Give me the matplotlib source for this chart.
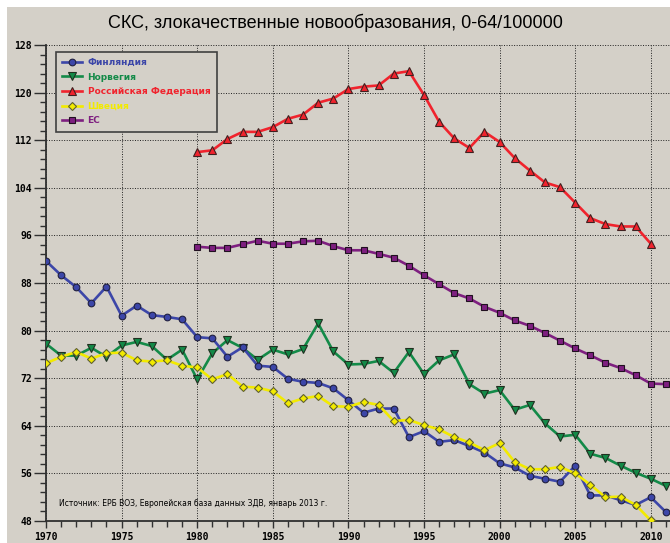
import numpy as np
import matplotlib
matplotlib.use('Agg')
import matplotlib.pyplot as plt
from matplotlib.ticker import MultipleLocator

# data
years_all = np.arange(1970, 2012)
years_swe = np.arange(1970, 2011)
years_rus = np.arange(1980, 2011)
years_eu = np.arange(1980, 2012)

finland = [91.7, 89.3, 87.3, 84.6, 87.4, 82.5, 84.2, 82.6, 82.3, 81.9,
           78.9, 78.7, 75.6, 77.2, 74.1, 73.9, 71.9, 71.4, 71.2, 70.3,
           68.3, 66.2, 66.9, 66.9, 62.1, 63.1, 61.3, 61.6, 60.6, 59.5,
           57.7, 57.0, 55.6, 55.1, 54.6, 57.3, 52.3, 52.3, 51.5, 50.7,
           52.0, 49.5]
norway = [77.8, 75.8, 75.8, 77.1, 75.6, 77.5, 78.1, 77.4, 75.1, 76.8,
          71.8, 76.2, 78.4, 77.1, 75.1, 76.8, 76.0, 76.9, 81.2, 76.5,
          74.3, 74.4, 74.9, 72.9, 76.4, 72.7, 75.0, 76.0, 71.0, 69.4,
          70.0, 66.7, 67.5, 64.4, 62.2, 62.5, 59.3, 58.6, 57.3, 56.1,
          55.1, 53.9]
sweden = [74.5, 75.6, 76.4, 75.3, 76.2, 76.3, 75.0, 74.8, 75.0, 74.1,
          73.8, 71.8, 72.7, 70.6, 70.4, 69.8, 67.8, 68.6, 69.0, 67.3,
          67.2, 68.0, 67.5, 64.8, 65.0, 64.1, 63.4, 62.1, 61.2, 59.9,
          61.1, 57.9, 56.7, 56.7, 57.1, 56.0, 54.1, 52.0, 52.1, 50.7,
          48.1]
russia = [110.0, 110.3, 112.2, 113.4, 113.4, 114.2, 115.6, 116.3, 118.3, 119.0,
          120.6, 121.0, 121.2, 123.2, 123.6, 119.6, 115.1, 112.3, 110.7, 113.4,
          111.7, 109.0, 106.9, 104.9, 104.1, 101.5, 98.9, 97.9, 97.5, 97.5,
          94.6]
eu = [94.1, 93.9, 93.9, 94.5, 95.1, 94.6, 94.6, 95.0, 95.1, 94.2,
      93.5, 93.5, 92.9, 92.25, 90.9, 89.3, 87.8, 86.3, 85.4, 84.0,
      83.0, 81.7, 80.8, 79.6, 78.3, 77.0, 75.85, 74.6, 73.7, 72.5,
      71.1, 71.0]

labels = ['Финляндия', 'Норвегия', 'Российская Федерация', 'Швеция', 'ЕС']
colors = ['#3c46a8', '#138a48', '#f0232d', '#f2ea00', '#7e1f80']

bg = '#d4d0c8'
fig = plt.figure(figsize=(6.7, 5.43), dpi=100, facecolor='white')
# grey panel (screenshot has a thin white strip top and left)
fig.patches.append(plt.Rectangle((7 / 670, 0), 1, 536 / 543, transform=fig.transFigure,
                                 facecolor=bg, edgecolor='none', zorder=-5))

ax = fig.add_axes([46 / 670, 22 / 543, 624 / 670, 476 / 543])
ax.set_facecolor(bg)

lw = 1.9
ax.plot(years_all, finland, color=colors[0], lw=lw, marker='o', ms=4.8,
        mfc=colors[0], mec='#202040', mew=0.8, label=labels[0], zorder=4)
ax.plot(years_all, norway, color=colors[1], lw=lw, marker='v', ms=5.8,
        mfc=colors[1], mec='#203020', mew=0.8, label=labels[1], zorder=3)
ax.plot(years_rus, russia, color=colors[2], lw=lw, marker='^', ms=5.8,
        mfc=colors[2], mec='#402020', mew=0.8, label=labels[2], zorder=3)
ax.plot(years_swe, sweden, color=colors[3], lw=lw, marker='D', ms=4.3,
        mfc=colors[3], mec='#606030', mew=0.8, label=labels[3], zorder=5)
ax.plot(years_eu, eu, color=colors[4], lw=lw, marker='s', ms=4.6,
        mfc=colors[4], mec='#201020', mew=0.8, label=labels[4], zorder=3)

ax.set_xlim(1970, 1970 + 624 / 15.12)
ax.set_ylim(48, 128)
ax.xaxis.set_major_locator(MultipleLocator(5))
ax.xaxis.set_minor_locator(MultipleLocator(1))
ax.yaxis.set_major_locator(MultipleLocator(8))
ax.yaxis.set_minor_locator(MultipleLocator(1.6))

ax.grid(which='major', color='#202020', linestyle=(0, (1.0, 1.6)), linewidth=0.7)
ax.set_axisbelow(True)

for s in ['top', 'right']:
    ax.spines[s].set_visible(False)
for s in ['left', 'bottom']:
    ax.spines[s].set_color('#303030')
    ax.spines[s].set_linewidth(1.3)

ax.tick_params(axis='y', which='major', length=9, width=1, color='#303030', pad=1)
ax.tick_params(axis='y', which='minor', length=4.5, width=1, color='#303030')
ax.tick_params(axis='x', which='major', length=5, width=1, color='#303030', pad=3)
ax.tick_params(axis='x', which='minor', length=4, width=1, color='#303030')
for t in ax.get_xticklabels() + ax.get_yticklabels():
    t.set_fontfamily('DejaVu Sans Mono')
    t.set_fontweight('bold')
    t.set_fontsize(7)

leg = ax.legend(loc='upper left', bbox_to_anchor=(0.016, 0.986), prop={'family': 'DejaVu Sans',
                'weight': 'bold', 'size': 6.5}, frameon=True, fancybox=False, framealpha=1,
                facecolor=bg, edgecolor='#404040', handlelength=2.2, handletextpad=0.6,
                labelspacing=0.62, borderpad=0.7, borderaxespad=0)
leg.get_frame().set_linewidth(1.2)
for txt, c in zip(leg.get_texts(), colors):
    txt.set_color(c)

ax.text(13 / 624, 18 / 476, 'Источник: ЕРБ ВОЗ, Европейская база данных ЗДВ, январь 2013 г.',
        transform=ax.transAxes, fontsize=5.5, family='DejaVu Sans', va='center', ha='left')

fig.text(0.5, 1 - 23 / 543, 'СКС, злокачественные новообразования, 0-64/100000',
         ha='center', va='center', fontsize=13, family='Liberation Sans')

fig.savefig('out.png', dpi=100, facecolor=fig.get_facecolor())
